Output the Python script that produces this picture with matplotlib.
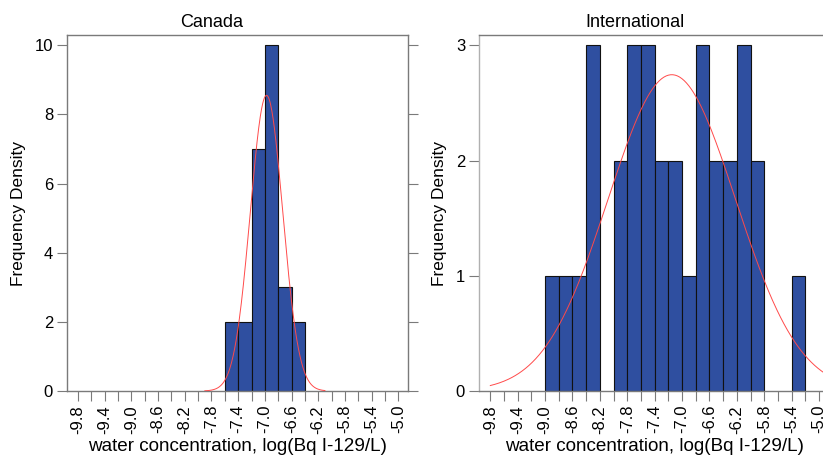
"""
Histograms of I-129 water concentration (log scale) for Canadian and
international samples, each with a fitted normal curve.
"""
import numpy as np
import matplotlib
matplotlib.use("Agg")
import matplotlib.pyplot as plt

plt.rcParams["font.family"] = ["Liberation Sans", "DejaVu Sans"]

# bin edges shared by both panels (log10 Bq I-129/L)
bin_width = 0.2
tick_values = np.round(np.arange(-9.8, -4.99, 0.4), 1)

# Canada: counts per bin, starting at the left edge
canada_left = -7.6
canada_counts = [2, 2, 7, 10, 3, 2]
canada_mean = -6.975
canada_sd = 0.2425
canada_curve_range = (-7.9, -6.1)

# International: counts per bin, starting at the left edge
intl_left = -9.0
intl_counts = [1, 1, 1, 3, 0, 2, 3, 3, 2, 2, 1, 3, 2, 2, 3, 2, 0, 0, 1]
intl_mean = -7.15
intl_sd = 0.93
intl_curve_range = (-9.8, -4.85)

BAR_COLOR = "#2f4fa0"
CURVE_COLOR = "#ff4a4a"
SPINE_COLOR = "#7a7a7a"


def draw_panel(ax, title, title_x, left, counts, mean, sd, curve_range):
    counts = np.asarray(counts)
    lefts = left + bin_width * np.arange(len(counts))
    keep = counts > 0
    ax.bar(lefts[keep], counts[keep], width=bin_width, align="edge",
           color=BAR_COLOR, edgecolor="#111111", linewidth=0.8, zorder=2)

    # normal curve scaled to counts per bin
    n = counts.sum()
    x = np.linspace(curve_range[0], curve_range[1], 300)
    y = n * bin_width / (sd * np.sqrt(2 * np.pi)) * np.exp(-0.5 * ((x - mean) / sd) ** 2)
    ax.plot(x, y, color=CURVE_COLOR, linewidth=0.7, zorder=3)

    ymax = counts.max()
    ax.set_xlim(-9.965, -4.855)
    ax.set_ylim(0, ymax * 1.03)
    ax.set_title(title, fontsize=13, pad=6, x=title_x)
    ax.set_xlabel("water concentration, log(Bq I-129/L)", fontsize=13.6, labelpad=3)
    ax.set_ylabel("Frequency Density", fontsize=12.5, labelpad=6)

    ax.set_xticks(tick_values)
    ax.set_xticklabels([f"{v:.1f}" for v in tick_values], rotation=90, fontsize=12)
    ax.set_xticks(np.round(np.arange(-9.6, -5.0, 0.4), 1), minor=True)
    ax.tick_params(axis="x", which="both", length=7, width=0.8,
                   color=SPINE_COLOR, direction="out", pad=3)
    ax.tick_params(axis="y", which="major", length=7, width=0.8,
                   color=SPINE_COLOR, direction="out", labelsize=12,
                   right=True, labelright=False, pad=3)
    for s in ax.spines.values():
        s.set_color(SPINE_COLOR)
        s.set_linewidth(1.0)


fig = plt.figure(figsize=(8.23, 4.55), dpi=100)
ax1 = fig.add_axes([67 / 823, 64 / 455, 341 / 823, 356 / 455])
ax2 = fig.add_axes([479 / 823, 64 / 455, 350 / 823, 356 / 455])

draw_panel(ax1, "Canada", 0.425, canada_left, canada_counts, canada_mean,
           canada_sd, canada_curve_range)
ax1.set_yticks([0, 2, 4, 6, 8, 10])

draw_panel(ax2, "International", 0.446, intl_left, intl_counts, intl_mean,
           intl_sd, intl_curve_range)
ax2.set_yticks([0, 1, 2, 3])
ax2.spines["left"].set_color("#b0b0b0")

fig.savefig("out.png", dpi=100)
